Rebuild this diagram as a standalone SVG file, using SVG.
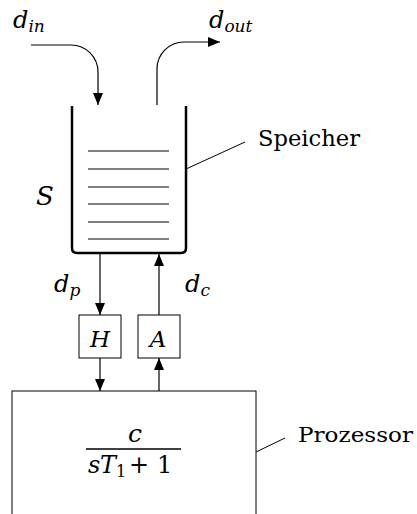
<svg xmlns="http://www.w3.org/2000/svg" width="417" height="514" viewBox="0 0 417 514">
<style>
.ln{fill:none;stroke:#000;stroke-width:1.2}
.thin{fill:none;stroke:#000;stroke-width:1}
.box{fill:#fff;stroke:#000;stroke-width:1}
</style>
<defs>
<marker id="ah" markerUnits="userSpaceOnUse" markerWidth="12" markerHeight="10" refX="12" refY="5" orient="auto">
<path d="M0,0 L12,5 L0,10 z" fill="#000"/>
</marker>
</defs>
<rect width="417" height="514" fill="#fff"/>
<g id="connectors">
<path class="ln" d="M31,45 H71 A27,27 0 0 1 98,72 V105" marker-end="url(#ah)"/>
<path class="ln" d="M157,105 V69 A27,27 0 0 1 184,42 H220" marker-end="url(#ah)"/>
<path class="ln" d="M100,254 V315" marker-end="url(#ah)"/>
<path class="ln" d="M159,315 V254" marker-end="url(#ah)"/>
<path class="ln" d="M100,358 V391" marker-end="url(#ah)"/>
<path class="ln" d="M159,391 V358" marker-end="url(#ah)"/>
<path class="thin" d="M186,169 L245,142"/>
<path class="thin" d="M256,452 L285,438"/>
</g>
<g id="speicher">
<path d="M72,106 V248 Q72,253 77,253 H181 Q186,253 186,248 V106" fill="none" stroke="#000" stroke-width="2.5"/>
<g class="thin">
<path d="M88,151 H169"/>
<path d="M88,169 H169"/>
<path d="M88,187 H169"/>
<path d="M88,204 H169"/>
<path d="M88,222 H169"/>
<path d="M88,239 H169"/>
</g>
<text x="258" y="146" font-family="'DejaVu Serif', serif" font-size="22" textLength="102" lengthAdjust="spacingAndGlyphs">Speicher</text>
<text x="36" y="205" font-family="'DejaVu Serif', serif" font-style="italic" font-size="26">S</text>
</g>
<g id="H">
<rect class="box" x="79" y="315" width="42" height="43"/>
<text x="100" y="347" font-family="'DejaVu Serif', serif" font-style="italic" font-size="23" text-anchor="middle">H</text>
</g>
<g id="A">
<rect class="box" x="138" y="315" width="42" height="43"/>
<text x="158" y="347" font-family="'DejaVu Serif', serif" font-style="italic" font-size="23" text-anchor="middle">A</text>
</g>
<g id="prozessor">
<rect class="box" x="12" y="391" width="244" height="140"/>
<text x="135" y="442" font-family="'DejaVu Serif', serif" font-style="italic" font-size="25" text-anchor="middle">c</text>
<path d="M86,449 H181" stroke="#000" stroke-width="1.3"/>
<text y="473" font-family="'DejaVu Serif', serif" font-size="24"><tspan x="88" font-style="italic">s</tspan><tspan x="100" font-style="italic">T</tspan><tspan x="116" y="477" font-size="16">1</tspan><tspan x="129" y="473">+</tspan><tspan x="157" y="473">1</tspan></text>
<text x="298" y="442" font-family="'DejaVu Serif', serif" font-size="21" textLength="115" lengthAdjust="spacingAndGlyphs">Prozessor</text>
</g>
<g id="labels" font-family="'DejaVu Serif', serif" font-style="italic">
<text x="13" y="28" font-size="24">d<tspan font-size="17" dy="4">in</tspan></text>
<text x="209" y="28" font-size="24">d<tspan font-size="17" dy="4">out</tspan></text>
<text x="54" y="292" font-size="24">d<tspan font-size="17" dy="4">p</tspan></text>
<text x="185" y="292" font-size="24">d<tspan font-size="17" dy="4">c</tspan></text>
</g>
</svg>
